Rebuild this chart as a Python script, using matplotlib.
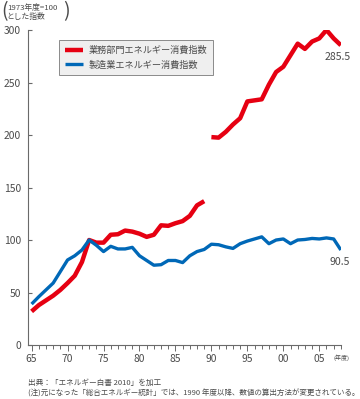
import matplotlib
matplotlib.use("Agg")
import matplotlib.pyplot as plt
from matplotlib.ticker import MultipleLocator

plt.rcParams["font.family"] = ["Noto Sans CJK JP", "DejaVu Sans"]

# data (index, FY1973 = 100)
years_a = list(range(1965, 1990))
business_a = [32, 38, 42.5, 47, 52.5, 59, 66, 79, 100, 97.5, 97.5, 105, 105.5,
              109, 108, 106, 103, 105, 114, 113.5, 116, 118, 123, 133, 137]
years_b = list(range(1990, 2009))
business_b = [198, 197.5, 203, 210, 216, 232, 233, 234, 248, 260, 265, 276,
              287, 282, 289, 292, 300, 292, 285.5]
years_m = list(range(1965, 2009))
manufacturing = [39, 46, 52.5, 59, 70, 81, 85, 90.5, 100, 95, 89, 94, 91.5,
                 91.5, 93, 85, 80.5, 76, 76.5, 80.5, 80.5, 78.5, 85, 89, 91,
                 96, 95.5, 93.5, 92, 96.5, 99, 101, 103, 96.5, 100, 101, 96.5,
                 100, 100.5, 101.5, 101, 102, 101, 90.5]
tick_years = [1965, 1970, 1975, 1980, 1985, 1990, 1995, 2000, 2005]
tick_labels = ["65", "70", "75", "80", "85", "90", "95", "00", "05"]
series_names = ["業務部門エネルギー消費指数", "製造業エネルギー消費指数"]

RED = "#e60012"
BLUE = "#0068b7"
TXT = "#4a4a4a"
AX = "#6a6a6a"

fig = plt.figure(figsize=(3.6, 3.99), dpi=100)
ax = fig.add_axes([0.0778, 0.1353, 0.869, 0.7895])

ax.plot(years_a, business_a, color=RED, lw=3.2, solid_capstyle="butt",
        solid_joinstyle="round", label=series_names[0])
ax.plot(years_b, business_b, color=RED, lw=3.2, solid_capstyle="butt",
        solid_joinstyle="round")
ax.plot(years_m, manufacturing, color=BLUE, lw=2.4, solid_capstyle="butt",
        solid_joinstyle="round", label=series_names[1])

ax.set_xlim(1964.5, 2008)
ax.set_ylim(0, 300)
ax.set_xticks(tick_years)
ax.set_xticklabels(tick_labels)
ax.xaxis.set_minor_locator(MultipleLocator(1))
ax.set_yticks([0, 50, 100, 150, 200, 250, 300])

for s in ["top", "right"]:
    ax.spines[s].set_visible(False)
for s in ["left", "bottom"]:
    ax.spines[s].set_color(AX)
    ax.spines[s].set_linewidth(0.8)

ax.tick_params(axis="y", direction="in", length=3, width=0.8, color=AX,
               labelsize=7.4, labelcolor=TXT, pad=5)
ax.tick_params(axis="x", which="major", direction="out", length=4, width=0.7,
               color=AX, labelsize=7.4, labelcolor=TXT, pad=2.5)
ax.tick_params(axis="x", which="minor", direction="out", length=3, width=0.7,
               color=AX)

leg = ax.legend(loc="upper left", bbox_to_anchor=(0.099, 0.968),
                borderaxespad=0, fontsize=6.6, handlelength=2.0,
                handletextpad=0.6, labelspacing=0.55, borderpad=0.65,
                fancybox=False, edgecolor="#8a8a8a", facecolor="#efefef",
                framealpha=1)
leg.get_frame().set_linewidth(0.7)
for t in leg.get_texts():
    t.set_color(TXT)

ax.text(2007.6, 274, "285.5", ha="center", va="center", fontsize=7.6,
        color=TXT)
ax.text(2007.8, 79, "90.5", ha="center", va="center", fontsize=7.6,
        color=TXT)

# unit label, top left
fig.text(0.004, 0.97, "(", ha="left", va="center", fontsize=14, color=TXT)
fig.text(0.019, 0.979, "1973年度=100", ha="left", va="center", fontsize=5.6,
         color=TXT)
fig.text(0.019, 0.958, "とした指数", ha="left", va="center", fontsize=5.6,
         color=TXT)
fig.text(0.176, 0.97, ")", ha="left", va="center", fontsize=14, color=TXT)

fig.text(0.95, 0.103, "(年度)", ha="center", va="center", fontsize=4.3,
         color=TXT)

fig.text(0.078, 0.041, "出典：「エネルギー白書 2010」を加工", ha="left",
         va="center", fontsize=5.5, color=TXT)
fig.text(0.078, 0.013,
         "(注)元になった「総合エネルギー統計」では、1990 年度以降、数値の算出方法が変更されている。",
         ha="left", va="center", fontsize=5.45, color=TXT)

fig.savefig("out.png", dpi=100)
